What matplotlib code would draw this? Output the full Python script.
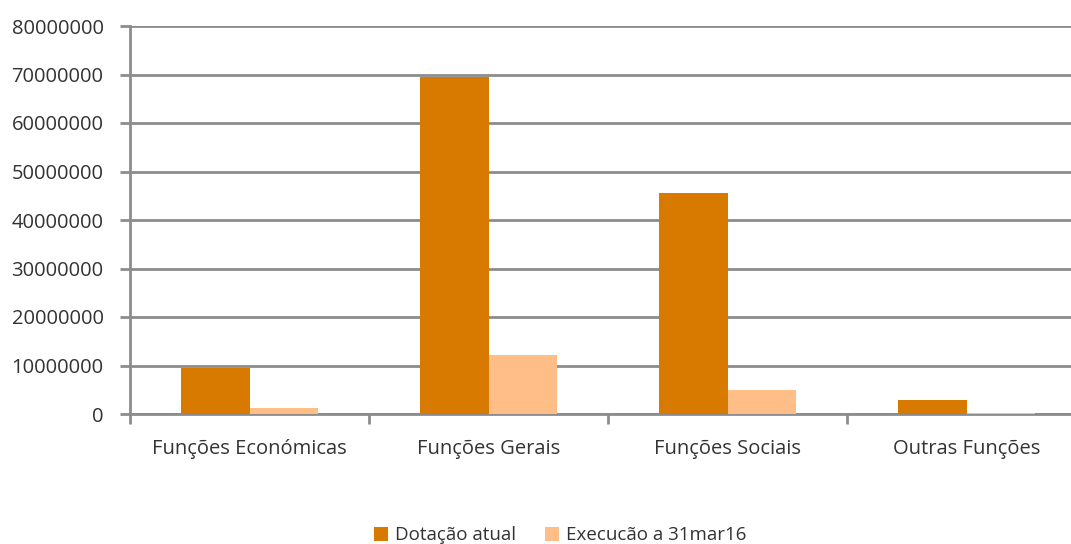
import matplotlib.pyplot as plt
import numpy as np

# despesa por função (euros)
categorias = ['Funções Económicas', 'Funções Gerais', 'Funções Sociais', 'Outras Funções']
dotacao = [9480000, 69400000, 45600000, 2950000]
execucao = [1240000, 12200000, 4900000, 300000]

plt.rcParams['font.family'] = ['Open Sans', 'DejaVu Sans']
cinza = '#333333'
linha = '#8c8c8c'

fig = plt.figure(figsize=(10.71, 5.44), dpi=100)
# a última categoria fica cortada pela margem direita
ax = fig.add_axes([130 / 1071, 1 - 414 / 544, 956 / 1071, 388 / 544])

x = np.arange(len(categorias))
w = 0.285
ax.bar(x - w / 2, dotacao, w, color='#d87a00', label='Dotação atual', zorder=3)
ax.bar(x + w / 2, execucao, w, color='#ffbd88', label='Execucão a 31mar16', zorder=3)

ax.set_xlim(-0.5, len(categorias) - 0.5)
ax.set_ylim(0, 80000000)
ax.set_yticks(np.arange(0, 80000001, 10000000))
ax.yaxis.set_major_formatter(plt.FuncFormatter(lambda v, p: '%d' % v))
ax.set_xticks(x)
ax.set_xticklabels(categorias)
ax.set_xticks(np.arange(-0.5, len(categorias), 1), minor=True)
ax.tick_params(axis='x', which='major', length=0, pad=18, labelsize=14.5, labelcolor=cinza)
ax.tick_params(axis='x', which='minor', length=7, width=2, color=linha)
ax.tick_params(axis='y', length=7, width=2, color=linha, labelsize=14.5, labelcolor=cinza, pad=12)

ax.grid(axis='y', color=linha, linewidth=2, zorder=0)
for s in ['top', 'right']:
    ax.spines[s].set_visible(False)
for s in ['left', 'bottom']:
    ax.spines[s].set_color(linha)
    ax.spines[s].set_linewidth(2)

leg = ax.legend(loc='lower center', bbox_to_anchor=(0.45, -0.37), ncol=2, frameon=False,
                fontsize=13.5, handlelength=0.75, handleheight=0.75, columnspacing=1.5,
                handletextpad=0.4, labelcolor=cinza, borderpad=0.2)

fig.savefig('out.png', dpi=100)
